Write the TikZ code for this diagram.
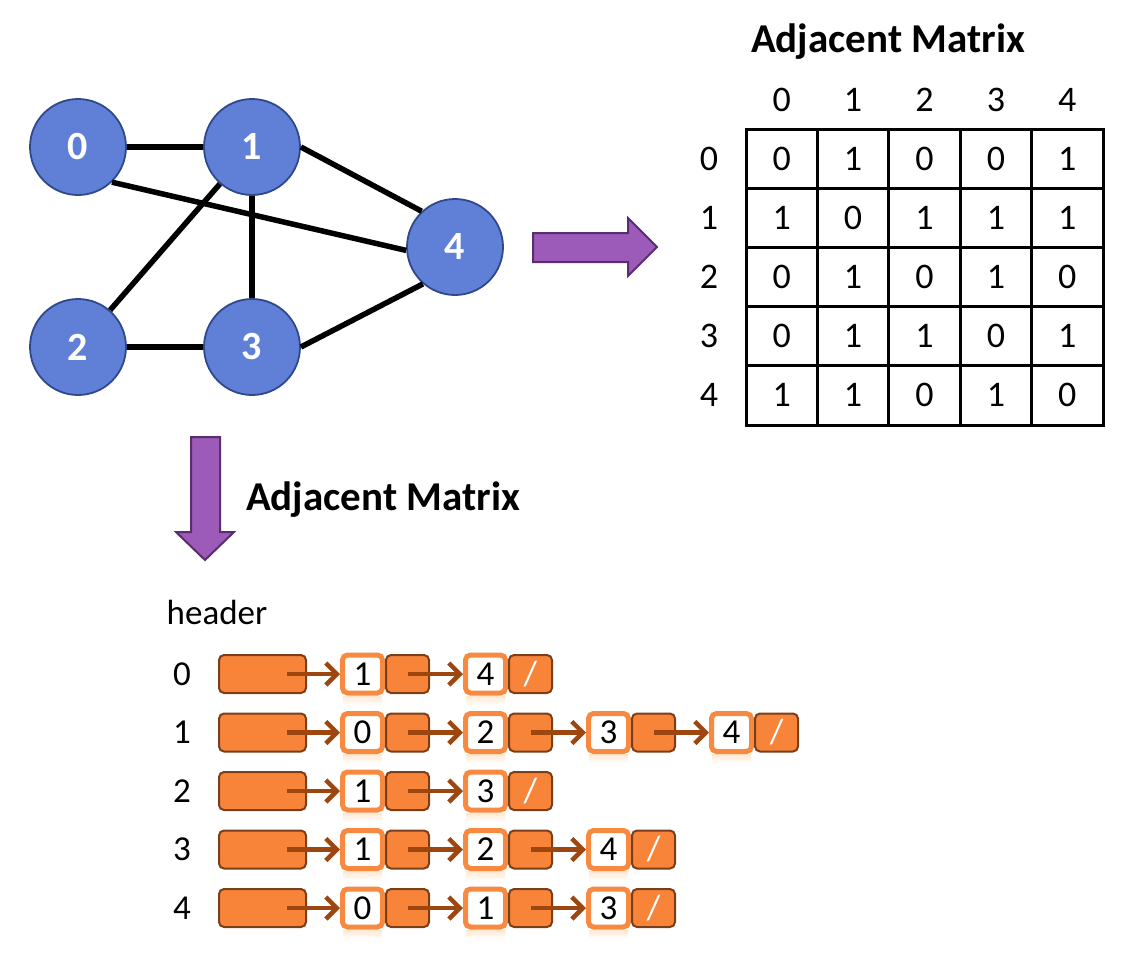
\documentclass[tikz,border=0pt]{standalone}
\usepackage{fontspec}
\setmainfont{Carlito}
\usetikzlibrary{arrows.meta}
\definecolor{nodefill}{RGB}{96,128,216}
\definecolor{nodeline}{RGB}{47,72,140}
\definecolor{purfill}{RGB}{156,90,185}
\definecolor{purline}{RGB}{90,45,110}
\definecolor{orfill}{RGB}{248,132,58}
\definecolor{orline}{RGB}{122,62,24}
\definecolor{orlight}{RGB}{248,137,64}
\definecolor{ptrcol}{RGB}{158,70,16}
\tikzset{
  gnode/.style={circle,minimum size=96pt,inner sep=0pt,fill=nodefill,draw=nodeline,line width=1.8pt,text=white,font=\fontsize{40}{44}\selectfont\bfseries},
  gedge/.style={line width=5.5pt,black},
  bigarrow/.style={fill=purfill,draw=purline,line width=2pt,line join=miter},
  title/.style={font=\fontsize{41}{48}\selectfont\bfseries,inner sep=0pt},
  mtxt/.style={font=\fontsize{36}{42}\selectfont,inner sep=0pt},
  cell/.style={draw=black,line width=3pt,minimum width=71.4pt,minimum height=59.2pt,inner sep=0pt,font=\fontsize{36}{42}\selectfont},
  ltxt/.style={font=\fontsize{35}{40}\selectfont,inner sep=0pt},
  hdr/.style={rounded corners=5pt,fill=orfill,draw=orline,line width=2pt,minimum width=87pt,minimum height=38pt,inner sep=0pt},
  dbox/.style={rounded corners=5pt,fill=white,draw=orlight,line width=5pt,minimum width=40pt,minimum height=38pt,inner sep=0pt,font=\fontsize{35}{40}\selectfont},
  pbox/.style={rounded corners=5pt,fill=orfill,draw=orline,line width=2pt,minimum width=43pt,minimum height=38pt,inner sep=0pt,text=white,font=\fontsize{35}{40}\selectfont},
  lptr/.style={draw=ptrcol,line width=4.5pt,-{Straight Barb[length=11pt,width=22pt,line width=4.5pt]}},
  refl/.style={top color=orange!18,bottom color=white,draw=none},
}
\begin{document}
\begin{tikzpicture}[x=1pt,y=-1pt]
\useasboundingbox (0,0) rectangle (1137,967);
% graph
\node[gnode] (n0) at (78,147) {0};
\node[gnode] (n1) at (252,147) {1};
\node[gnode] (n4) at (455,247) {4};
\node[gnode] (n2) at (78,347) {2};
\node[gnode] (n3) at (252,347) {3};
\draw[gedge] (n0) -- (n1);
\draw[gedge] (n0.-46) -- (n4.184);
\draw[gedge] (n1.east) -- (n4.133);
\draw[gedge] (n1) -- (n2);
\draw[gedge] (n1) -- (n3);
\draw[gedge] (n2) -- (n3);
\draw[gedge] (n3.east) -- (n4.229);
% big arrows
\draw[bigarrow] (533,233) -- (628,233) -- (628,218) -- (657,247) -- (628,276) -- (628,262) -- (533,262) -- cycle;
\draw[bigarrow] (191,437) -- (220,437) -- (220,532) -- (234,532) -- (205,560) -- (176,532) -- (191,532) -- cycle;
% titles
\node[title] (t1) at (888,42) {Adjacent Matrix};
\node[title] (t2) at (383,500) {Adjacent Matrix};
% matrix
\foreach \j in {0,...,4}{
  \node[mtxt] (ch\j) at ({781.7+71.4*\j},100) {\j};
  \node[mtxt] (rh\j) at (709,{158.6+59.2*\j}) {\j};
}
\foreach \i/\row in {0/{0,1,0,0,1},1/{1,0,1,1,1},2/{0,1,0,1,0},3/{0,1,1,0,1},4/{1,1,0,1,0}}{
  \foreach \v [count=\k from 0] in \row {
    \node[cell] (m\i-\k) at ({781.7+71.4*\k},{158.6+59.2*\i}) {\v};
  }
}
% adjacency lists
\node[ltxt] (hd) at (217,612) {header};
\foreach \r/\y/\lst/\n in {0/674/{1,4}/2,1/732.5/{0,2,3,4}/4,2/791/{1,3}/2,3/849.5/{1,2,4}/3,4/908/{0,1,3}/3}{
  \node[ltxt] (rl\r) at (182,\y) {\r};
  \node[hdr] (h\r) at (262.5,\y) {};
  \foreach \v [count=\k] in \lst {
    \pgfmathsetmacro\xx{340+123*(\k-1)}
    \shade[refl] (\xx+3,\y+22) rectangle (\xx+42,\y+31);
    \node[dbox] (d\r-\k) at (\xx+22.5,\y) {\v};
    \ifnum\k=\n
      \node[pbox] (p\r-\k) at (\xx+67.5,\y) {/};
    \else
      \node[pbox] (p\r-\k) at (\xx+67.5,\y) {};
    \fi
  }
  \foreach \v [count=\k] in \lst {
    \ifnum\k=1
      \draw[lptr] ([xshift=-20pt]h\r.east) -- (d\r-\k.west);
    \else
      \pgfmathtruncatemacro\km{\k-1}
      \draw[lptr] (p\r-\km.center) -- (d\r-\k.west);
    \fi
  }
}
\end{tikzpicture}
\end{document}
